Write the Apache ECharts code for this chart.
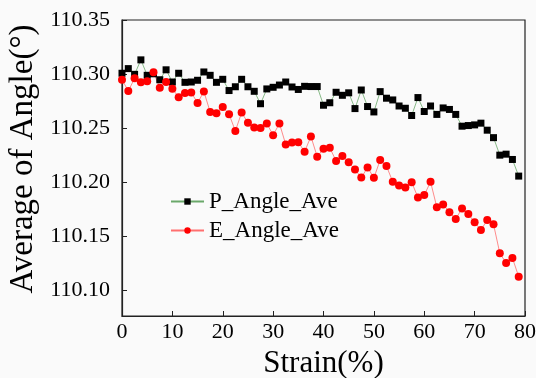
<!DOCTYPE html>
<html>
<head>
<meta charset="utf-8">
<script src="https://cdn.jsdelivr.net/npm/echarts@6/dist/echarts.min.js"></script>
<style>
html,body{margin:0;padding:0;background:#fafafa;}
#c{width:536px;height:378px;}
</style>
</head>
<body>
<div id="c"></div>
<script>
var strain = [];
for (var k = 0; k < 64; k++) strain.push(k * 1.25);

var pAngle = [
110.3007,110.3050,110.2997,110.3131,110.2988,110.3002,110.2947,110.3039,110.2926,110.3007,
110.2923,110.2926,110.2942,110.3019,110.2988,110.2923,110.2951,110.2847,110.2882,110.2951,
110.2882,110.2840,110.2725,110.2862,110.2877,110.2898,110.2926,110.2880,110.2857,110.2886,
110.2884,110.2884,110.2711,110.2734,110.2831,110.2803,110.2826,110.2680,110.2852,110.2699,
110.2649,110.2837,110.2776,110.2760,110.2704,110.2683,110.2616,110.2782,110.2653,110.2704,
110.2626,110.2686,110.2672,110.2626,110.2517,110.2523,110.2529,110.2545,110.2480,110.2411,
110.2249,110.2258,110.2209,110.2055
];
var eAngle = [
110.2948,110.2843,110.2960,110.2923,110.2933,110.3016,110.2874,110.2926,110.2863,110.2785,
110.2825,110.2829,110.2732,110.2838,110.2649,110.2637,110.2695,110.2628,110.2473,110.2643,
110.2549,110.2505,110.2501,110.2542,110.2434,110.2542,110.2348,110.2366,110.2369,110.2281,
110.2422,110.2235,110.2309,110.2317,110.2195,110.2242,110.2184,110.2115,110.2041,110.2135,
110.2039,110.2203,110.2148,110.2002,110.1969,110.1949,110.1999,110.1856,110.1879,110.2002,
110.1766,110.1793,110.1720,110.1658,110.1756,110.1704,110.1627,110.1556,110.1648,110.1609,
110.1341,110.1251,110.1297,110.1124
];
var seriesNames = ['P_Angle_Ave', 'E_Angle_Ave'];
var xTitle = 'Strain(%)';
var yTitle = 'Average of Angle(°)';

function pairs(ys) { return ys.map(function (v, i) { return [strain[i], v]; }); }

var serif = '"Liberation Serif","DejaVu Serif",serif';
var chart = echarts.init(document.getElementById('c'));
chart.setOption({
  backgroundColor: '#fafafa',
  animation: false,
  grid: { left: 122, right: 11, top: 20, bottom: 62, containLabel: false, outerBoundsMode: 'none',
          show: true, borderColor: '#222', borderWidth: 1.2, backgroundColor: 'transparent' },
  xAxis: {
    type: 'value', min: 0, max: 80, interval: 10,
    name: xTitle, nameLocation: 'middle', nameGap: 30,
    nameTextStyle: { fontFamily: serif, fontSize: 31, color: '#000' },
    axisLine: { lineStyle: { color: '#222', width: 1.2 } },
    axisTick: { inside: true, length: 5, lineStyle: { color: '#222' } },
    axisLabel: { fontFamily: serif, fontSize: 22, color: '#000', margin: 5 },
    splitLine: { show: false }
  },
  yAxis: {
    type: 'value', min: 110.076, max: 110.35, splitNumber: 5, minInterval: 0.05, maxInterval: 0.05,
    name: yTitle, nameLocation: 'middle', nameGap: 80,
    nameTextStyle: { fontFamily: serif, fontSize: 33, color: '#000', padding: [0, 0, 0, 18] },
    axisLine: { lineStyle: { color: '#222', width: 1.2 } },
    axisTick: { inside: true, length: 5, lineStyle: { color: '#222' } },
    axisLabel: {
      fontFamily: serif, fontSize: 22, color: '#000', margin: 12,
      formatter: function (v) {
        var r = Math.round(v * 20) / 20;
        if (Math.abs(r - v) > 1e-6) return '';
        return r.toFixed(2);
      }
    },
    splitLine: { show: false }
  },
  legend: {
    orient: 'vertical', left: 165, top: 185, itemWidth: 33, itemHeight: 8, itemGap: 6,
    textStyle: { fontFamily: serif, fontSize: 23, color: '#000' },
    data: seriesNames
  },
  series: [
    {
      name: seriesNames[0], type: 'line', data: pairs(pAngle),
      symbol: 'rect', symbolSize: 7,
      itemStyle: { color: '#000' },
      lineStyle: { color: '#6aa86a', width: 0.8 }
    },
    {
      name: seriesNames[1], type: 'line', data: pairs(eAngle),
      symbol: 'circle', symbolSize: 8,
      itemStyle: { color: '#ff0000' },
      lineStyle: { color: '#ff6f6f', width: 0.8 }
    }
  ]
});
</script>
</body>
</html>
